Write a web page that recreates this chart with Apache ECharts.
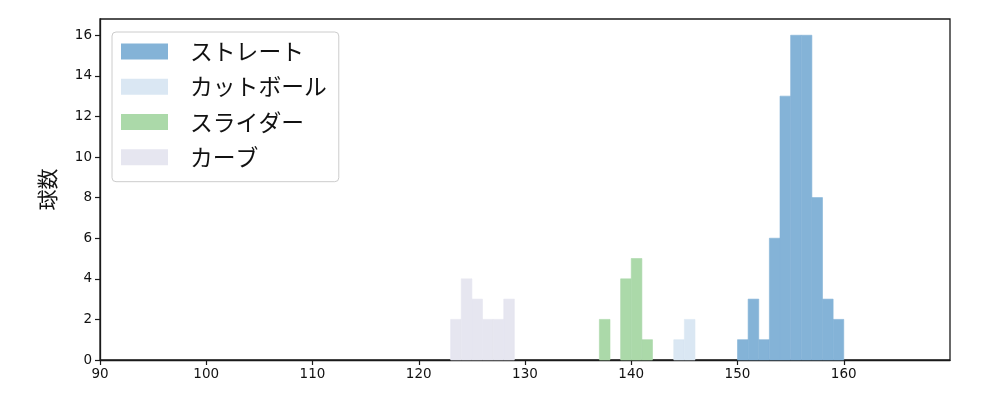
<!DOCTYPE html>
<html><head><meta charset="utf-8">
<script src="https://cdn.jsdelivr.net/npm/echarts@6/dist/echarts.min.js"></script>
<style>html,body{margin:0;padding:0;background:#fff}#c{width:1000px;height:400px}</style>
</head><body><div id="c"></div>
<script>
// bin starts (km/h), each bin is 1 km/h wide
var seriesNames = ['ストレート', 'カットボール', 'スライダー', 'カーブ'];
var straightBins = [150, 151, 152, 153, 154, 155, 156, 157, 158, 159];
var straightCounts = [1, 3, 1, 6, 13, 16, 16, 8, 3, 2];
var cutBins = [144, 145];
var cutCounts = [1, 2];
var sliderBins = [137, 139, 140, 141];
var sliderCounts = [2, 4, 5, 1];
var curveBins = [123, 124, 125, 126, 127, 128];
var curveCounts = [2, 4, 3, 2, 2, 3];
var xTicks = [90, 100, 110, 120, 130, 140, 150, 160];
var yTicks = [0, 2, 4, 6, 8, 10, 12, 14, 16];
var colors = ['#84b3d7', '#dae7f3', '#abd9a9', '#e6e6f0'];
var binWidth = 1;

function toData(bins, counts) {
  return bins.map(function (b, i) { return [b, b + binWidth, counts[i]]; });
}
function makeRender(color) {
  return function (params, api) {
    var p0 = api.coord([api.value(0), 0]);
    var p1 = api.coord([api.value(1), api.value(2)]);
    return {
      type: 'rect',
      shape: { x: p0[0], y: p1[1], width: p1[0] - p0[0], height: p0[1] - p1[1] },
      style: { fill: color, stroke: color, lineWidth: 0.6 }
    };
  };
}
var allData = [
  toData(straightBins, straightCounts),
  toData(cutBins, cutCounts),
  toData(sliderBins, sliderCounts),
  toData(curveBins, curveCounts)
];
var series = allData.map(function (d, i) {
  return {
    name: seriesNames[i], type: 'custom', renderItem: makeRender(colors[i]),
    encode: { x: [0, 1], y: 2 }, data: d, itemStyle: { color: colors[i] },
    z: 2
  };
});
var font = 'DejaVu Sans';
var chart = echarts.init(document.getElementById('c'), null, { renderer: 'canvas' });
chart.setOption({
  animation: false,
  backgroundColor: '#fff',
  color: colors,
  grid: { left: 100, right: 50, top: 19, bottom: 40, show: true, borderColor: '#1a1a1a', borderWidth: 1.3, backgroundColor: 'transparent' },
  legend: {
    show: true, orient: 'vertical', left: 112, top: 32,
    itemWidth: 47, itemHeight: 16, itemGap: 12.5,
    padding: [8, 12, 13, 9],
    backgroundColor: 'rgba(255,255,255,0.8)', borderColor: '#cccccc', borderWidth: 1, borderRadius: 4,
    icon: 'rect',
    textStyle: { fontFamily: 'Noto Sans CJK JP', fontSize: 22.8, lineHeight: 22, color: '#111', padding: [0, 0, 0, 17] },
    data: seriesNames
  },
  xAxis: {
    type: 'value', min: 90, max: 170, interval: 10,
    axisLine: { show: true, onZero: false, lineStyle: { color: '#1a1a1a', width: 1.3 } },
    axisTick: { show: true, inside: false, length: 5, customValues: xTicks, lineStyle: { color: '#1a1a1a', width: 1.2 } },
    axisLabel: { fontFamily: font, fontSize: 13.5, color: '#111', margin: 7, customValues: xTicks },
    splitLine: { show: false }
  },
  yAxis: {
    type: 'value', min: 0, max: 16.8, interval: 2,
    name: '球数', nameLocation: 'middle', nameGap: 42, nameRotate: 90,
    nameTextStyle: { fontFamily: 'Noto Sans CJK JP', fontSize: 21, color: '#111' },
    axisLine: { show: true, lineStyle: { color: '#1a1a1a', width: 1.3 } },
    axisTick: { show: true, inside: false, length: 5, customValues: yTicks, lineStyle: { color: '#1a1a1a', width: 1.2 } },
    axisLabel: { fontFamily: font, fontSize: 13.5, color: '#111', margin: 8, customValues: yTicks },
    splitLine: { show: false }
  },
  series: series
});
</script></body></html>
